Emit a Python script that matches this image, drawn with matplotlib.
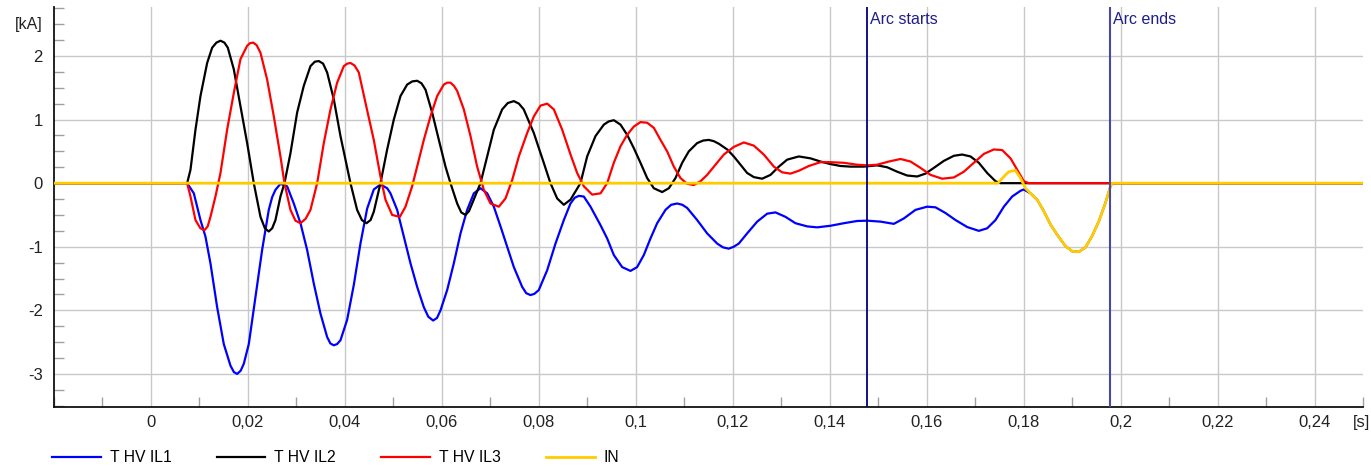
import numpy as np
import matplotlib
matplotlib.use("Agg")
import matplotlib.pyplot as plt
from matplotlib.ticker import FixedLocator, MultipleLocator

plt.rcParams['font.family'] = ['Liberation Sans', 'DejaVu Sans']

il1_pts = [(-0.02, 0), (0.00746, 0), (0.00884, -0.16), (0.01021, -0.58), (0.01124, -0.84),
           (0.01227, -1.26), (0.01365, -1.95), (0.01502, -2.53), (0.01640, -2.87), (0.01710, -2.97),
           (0.01777, -3.00), (0.01850, -2.95), (0.01915, -2.84), (0.02018, -2.53), (0.02155, -1.79),
           (0.02293, -1.05), (0.02430, -0.42), (0.02500, -0.22), (0.02568, -0.105), (0.02671, -0.01),
           (0.02809, -0.05), (0.02946, -0.32), (0.03084, -0.63), (0.03221, -1.05), (0.03359, -1.58),
           (0.03496, -2.05), (0.03634, -2.42), (0.03700, -2.52), (0.03771, -2.55), (0.03840, -2.53),
           (0.03909, -2.47), (0.04046, -2.15), (0.04184, -1.6), (0.04321, -0.95), (0.04459, -0.4),
           (0.04596, -0.1), (0.04734, -0.02), (0.04872, -0.08), (0.04940, -0.16), (0.05078, -0.42),
           (0.05215, -0.84), (0.05353, -1.26), (0.05490, -1.63), (0.05628, -1.95), (0.05720, -2.10),
           (0.05820, -2.16), (0.05900, -2.12), (0.05972, -2.00), (0.06110, -1.68), (0.06247, -1.26),
           (0.06385, -0.79), (0.06522, -0.42), (0.06660, -0.16), (0.06797, -0.08), (0.06935, -0.16),
           (0.07072, -0.37), (0.07210, -0.68), (0.07347, -1.00), (0.07485, -1.32), (0.07656, -1.63),
           (0.07740, -1.73), (0.07828, -1.76), (0.07910, -1.74), (0.08000, -1.68), (0.08172, -1.37),
           (0.08344, -0.95), (0.08516, -0.58), (0.08653, -0.32), (0.08740, -0.23), (0.08825, -0.20),
           (0.08928, -0.21), (0.09066, -0.37), (0.09272, -0.66), (0.09410, -0.87), (0.09547, -1.13),
           (0.09719, -1.32), (0.09891, -1.38), (0.10028, -1.32), (0.10166, -1.13), (0.10303, -0.87),
           (0.10441, -0.63), (0.10613, -0.42), (0.10730, -0.34), (0.10854, -0.32), (0.10960, -0.34),
           (0.11060, -0.39), (0.11266, -0.58), (0.11472, -0.79), (0.11679, -0.95), (0.11800, -1.01),
           (0.11919, -1.03), (0.12020, -1.00), (0.12125, -0.95), (0.12297, -0.79), (0.12504, -0.605),
           (0.12710, -0.48), (0.12882, -0.46), (0.13088, -0.53), (0.13294, -0.63), (0.13535, -0.68),
           (0.13741, -0.695), (0.14016, -0.67), (0.14291, -0.63), (0.14566, -0.595), (0.14773, -0.59),
           (0.15048, -0.605), (0.15323, -0.64), (0.15529, -0.555), (0.15770, -0.42), (0.16010, -0.37),
           (0.16182, -0.38), (0.16389, -0.47), (0.16595, -0.58), (0.16836, -0.69), (0.17076, -0.75),
           (0.17248, -0.71), (0.17420, -0.58), (0.17592, -0.37), (0.17764, -0.21), (0.17936, -0.12),
           (0.18004, -0.10), (0.18141, -0.16), (0.18279, -0.26), (0.18416, -0.44), (0.18554, -0.65),
           (0.18691, -0.81), (0.18863, -0.99), (0.19001, -1.07), (0.19138, -1.08), (0.19276, -1.01),
           (0.19413, -0.83), (0.19551, -0.60), (0.19688, -0.31), (0.19791, -0.05), (0.19826, 0),
           (0.25, 0)]

il2_pts = [(-0.02, 0), (0.00746, 0), (0.00815, 0.21), (0.00918, 0.84), (0.01021, 1.37),
           (0.01159, 1.89), (0.01262, 2.13), (0.01350, 2.21), (0.01434, 2.24), (0.01515, 2.21),
           (0.01585, 2.13), (0.01709, 1.79), (0.01846, 1.21), (0.01984, 0.63), (0.02121, 0),
           (0.02259, -0.53), (0.02350, -0.71), (0.02430, -0.76), (0.02500, -0.71), (0.02568, -0.58),
           (0.02671, -0.21), (0.02754, 0), (0.02877, 0.47), (0.03015, 1.11), (0.03152, 1.53),
           (0.03290, 1.84), (0.03380, 1.91), (0.03462, 1.92), (0.03550, 1.88), (0.03634, 1.74),
           (0.03771, 1.32), (0.03909, 0.74), (0.04115, 0), (0.04252, -0.42), (0.04350, -0.58),
           (0.04445, -0.63), (0.04530, -0.58), (0.04596, -0.45), (0.04734, 0), (0.04872, 0.53),
           (0.05009, 1.00), (0.05147, 1.37), (0.05284, 1.55), (0.05390, 1.60), (0.05491, 1.61),
           (0.05580, 1.57), (0.05663, 1.47), (0.05800, 1.11), (0.05938, 0.68), (0.06075, 0.26),
           (0.06178, 0), (0.06316, -0.32), (0.06400, -0.46), (0.06488, -0.50), (0.06560, -0.44),
           (0.06625, -0.32), (0.06797, 0), (0.06935, 0.42), (0.07072, 0.84), (0.07244, 1.16),
           (0.07360, 1.26), (0.07485, 1.29), (0.07590, 1.25), (0.07689, 1.16), (0.07896, 0.79),
           (0.08102, 0.32), (0.08240, 0), (0.08378, -0.24), (0.08515, -0.34), (0.08653, -0.26),
           (0.08859, 0), (0.08997, 0.42), (0.09169, 0.74), (0.09341, 0.92), (0.09440, 0.97),
           (0.09547, 0.99), (0.09685, 0.92), (0.09822, 0.76), (0.09960, 0.55), (0.10097, 0.32),
           (0.10235, 0.08), (0.10372, -0.08), (0.10544, -0.14), (0.10682, -0.08), (0.10819, 0.08),
           (0.10957, 0.32), (0.11094, 0.50), (0.11266, 0.63), (0.11390, 0.67), (0.11507, 0.68),
           (0.11610, 0.66), (0.11713, 0.62), (0.11885, 0.53), (0.12022, 0.42), (0.12160, 0.29),
           (0.12297, 0.16), (0.12435, 0.095), (0.12607, 0.07), (0.12779, 0.13), (0.12951, 0.26),
           (0.13123, 0.37), (0.13363, 0.42), (0.13604, 0.39), (0.13810, 0.34), (0.14016, 0.30),
           (0.14222, 0.27), (0.14429, 0.26), (0.14704, 0.26), (0.14979, 0.28), (0.15185, 0.25),
           (0.15392, 0.18), (0.15598, 0.12), (0.15804, 0.105), (0.15976, 0.15), (0.16148, 0.24),
           (0.16354, 0.35), (0.16560, 0.43), (0.16732, 0.45), (0.16904, 0.42), (0.17076, 0.32),
           (0.17248, 0.16), (0.17420, 0.03), (0.17523, 0), (0.25, 0)]

il3_pts = [(-0.02, 0), (0.00746, 0), (0.00815, -0.21), (0.00918, -0.58), (0.01020, -0.71),
           (0.01104, -0.74), (0.01170, -0.68), (0.01227, -0.53), (0.01330, -0.21), (0.01434, 0.16),
           (0.01571, 0.84), (0.01709, 1.42), (0.01846, 1.95), (0.01984, 2.16), (0.02040, 2.20),
           (0.02108, 2.21), (0.02180, 2.17), (0.02259, 2.05), (0.02396, 1.63), (0.02534, 1.05),
           (0.02671, 0.42), (0.02754, 0), (0.02877, -0.42), (0.02980, -0.59), (0.03084, -0.63),
           (0.03190, -0.56), (0.03290, -0.42), (0.03428, 0), (0.03565, 0.63), (0.03703, 1.16),
           (0.03840, 1.58), (0.03978, 1.84), (0.04050, 1.88), (0.04115, 1.89), (0.04200, 1.85),
           (0.04287, 1.74), (0.04455, 1.16), (0.04596, 0.68), (0.04734, 0.105), (0.04837, -0.26),
           (0.04975, -0.50), (0.05133, -0.53), (0.05250, -0.37), (0.05387, -0.05), (0.05490, 0.26),
           (0.05628, 0.68), (0.05765, 1.05), (0.05903, 1.37), (0.06040, 1.55), (0.06110, 1.58),
           (0.06178, 1.58), (0.06250, 1.53), (0.06316, 1.45), (0.06453, 1.16), (0.06591, 0.74),
           (0.06728, 0.26), (0.06866, -0.105), (0.07003, -0.32), (0.07175, -0.37), (0.07313, -0.24),
           (0.07451, 0.05), (0.07588, 0.42), (0.07760, 0.79), (0.07898, 1.05), (0.08035, 1.22),
           (0.08173, 1.25), (0.08310, 1.16), (0.08482, 0.84), (0.08654, 0.45), (0.08791, 0.16),
           (0.08929, -0.05), (0.09101, -0.18), (0.09273, -0.16), (0.09410, 0), (0.09547, 0.32),
           (0.09685, 0.58), (0.09822, 0.76), (0.09960, 0.89), (0.10097, 0.96), (0.10235, 0.95),
           (0.10372, 0.87), (0.10510, 0.68), (0.10647, 0.50), (0.10785, 0.26), (0.10922, 0.08),
           (0.11060, -0.01), (0.11197, -0.03), (0.11335, 0.03), (0.11472, 0.13), (0.11644, 0.29),
           (0.11816, 0.45), (0.12022, 0.57), (0.12229, 0.64), (0.12435, 0.59), (0.12641, 0.45),
           (0.12848, 0.26), (0.13020, 0.17), (0.13192, 0.15), (0.13363, 0.195), (0.13570, 0.27),
           (0.13810, 0.33), (0.14016, 0.33), (0.14291, 0.32), (0.14566, 0.29), (0.14773, 0.28),
           (0.14979, 0.29), (0.15220, 0.34), (0.15461, 0.38), (0.15667, 0.34), (0.15873, 0.24),
           (0.16080, 0.13), (0.16320, 0.07), (0.16561, 0.09), (0.16767, 0.18), (0.16973, 0.32),
           (0.17180, 0.46), (0.17386, 0.53), (0.17558, 0.52), (0.17730, 0.39), (0.17868, 0.21),
           (0.18005, 0.03), (0.18108, 0), (0.25, 0)]

in_pts = [(-0.02, 0), (0.1747, 0), (0.17626, 0.13), (0.17695, 0.18), (0.17832, 0.20),
          (0.17935, 0.08), (0.18038, -0.08), (0.18141, -0.16), (0.18279, -0.26), (0.18416, -0.44),
          (0.18554, -0.65), (0.18691, -0.81), (0.18863, -0.99), (0.19001, -1.07), (0.19138, -1.08),
          (0.19276, -1.01), (0.19413, -0.83), (0.19551, -0.60), (0.19688, -0.31), (0.19791, -0.05),
          (0.19826, 0), (0.25, 0)]

series_names = ["T HV IL1", "T HV IL2", "T HV IL3", "IN"]
series_colors = ["#0000FF", "#000000", "#FF0000", "#FFCC00"]

arc_start = 0.1476
arc_end = 0.1978

x_ticks = [0, 0.02, 0.04, 0.06, 0.08, 0.1, 0.12, 0.14, 0.16, 0.18, 0.2, 0.22, 0.24]
x_labels = ["0", "0,02", "0,04", "0,06", "0,08", "0,1", "0,12", "0,14", "0,16", "0,18", "0,2", "0,22", "0,24"]
y_ticks = [-3, -2, -1, 0, 1, 2]
y_labels = ["-3", "-2", "-1", "0", "1", "2"]

W, H = 1371, 468
fig = plt.figure(figsize=(W / 100, H / 100), dpi=100)
ax = fig.add_axes([54 / W, 61 / H, (1363 - 54) / W, (461 - 61) / H])

handles = []
for pts, name, col in zip([il1_pts, il2_pts, il3_pts, in_pts], series_names, series_colors):
    t = np.array([p[0] for p in pts])
    v = np.array([p[1] for p in pts])
    lw = 2.0 if name == "IN" else 1.6
    ln, = ax.plot(t, v, color=col, lw=lw, solid_joinstyle='round', label=name, zorder=3)
    handles.append(ln)

ax.axvline(arc_start, color="#000080", lw=1.3, zorder=5)
ax.axvline(arc_end, color="#4848A8", lw=1.5, zorder=5)
ax.text(arc_start + 0.0007, 0.9675, "Arc starts", transform=ax.get_xaxis_transform(),
        color="#1E1E8C", fontsize=11.5, va='center', ha='left')
ax.text(arc_end + 0.0007, 0.9675, "Arc ends", transform=ax.get_xaxis_transform(),
        color="#1E1E8C", fontsize=11.5, va='center', ha='left')

ax.set_xlim(-0.02, 0.25)
ax.set_ylim(-3.52, 2.77)

ax.xaxis.set_major_locator(FixedLocator(x_ticks))
ax.set_xticklabels(x_labels)
ax.xaxis.set_minor_locator(MultipleLocator(0.01))
ax.yaxis.set_major_locator(FixedLocator(y_ticks))
ax.set_yticklabels(y_labels)
ax.yaxis.set_minor_locator(MultipleLocator(0.25))

ax.grid(True, which='major', color="#C8C8C8", lw=1.0, zorder=0)
ax.set_axisbelow(True)
ax.tick_params(which='major', length=0, labelsize=12, labelcolor="#222222")
ax.tick_params(axis='x', which='major', pad=6)
ax.tick_params(axis='y', which='major', pad=8)
ax.tick_params(which='minor', direction='in', length=7, width=1, color="#A0A0A0")

for s in ['top', 'right']:
    ax.spines[s].set_visible(False)
for s in ['left', 'bottom']:
    ax.spines[s].set_color("#111111")
    ax.spines[s].set_linewidth(1.3)

fig.text(43 / W, 1 - 25 / H, "[kA]", ha='right', va='center', fontsize=11.5, color="#222222")
fig.text(1370 / W, 1 - 423 / H, "[s]", ha='right', va='center', fontsize=12, color="#222222")

fig.legend(handles, series_names, loc='center left', bbox_to_anchor=(46 / W, 1 - 458 / H),
           ncol=4, frameon=False, fontsize=11.3, handlelength=3.1, handletextpad=0.55,
           columnspacing=2.9, borderaxespad=0, borderpad=0.4)

fig.savefig("out.png", dpi=100)
